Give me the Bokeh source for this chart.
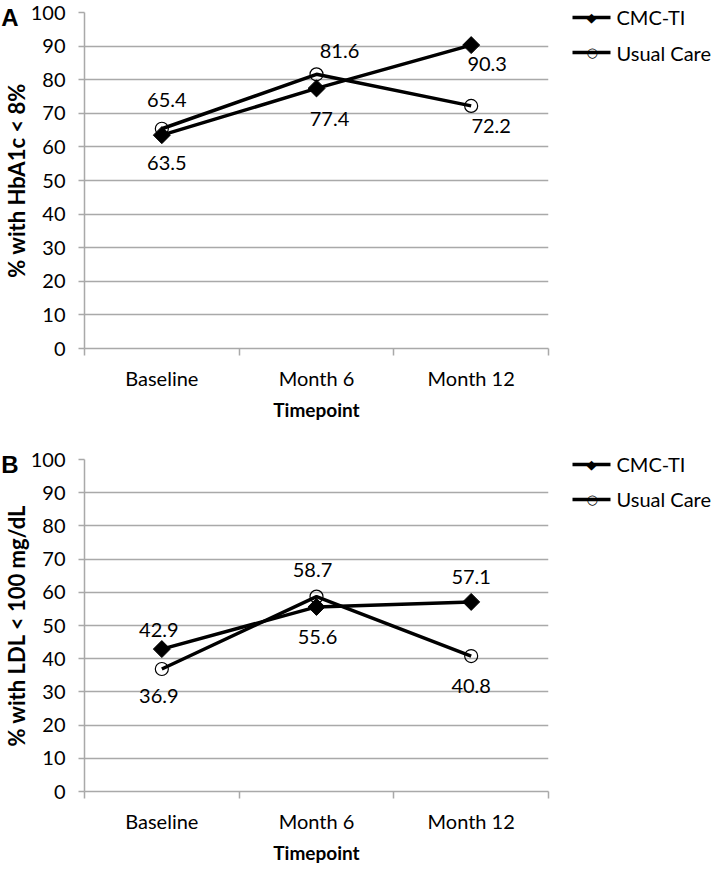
import math
from bokeh.plotting import figure
from bokeh.layouts import column
from bokeh.models import FixedTicker, LinearAxis
from bokeh.core.properties import value
from bokeh.embed import file_html
from bokeh.resources import INLINE

# ---- data ----
timepoints = ["Baseline", "Month 6", "Month 12"]
series_names = ["CMC-TI", "Usual Care"]
hba1c_cmc = [63.5, 77.4, 90.3]
hba1c_usual = [65.4, 81.6, 72.2]
ldl_cmc = [42.9, 55.6, 57.1]
ldl_usual = [36.9, 58.7, 40.8]
y_ticks = list(range(0, 101, 10))

# ---- label placement (pixels) ----
a_cmc_dx, a_cmc_dy = [5, 13, 16], [28, 31, 19]
a_uc_dx, a_uc_dy = [5, 23, 20], [-29, -23, 20]
b_cmc_dx, b_cmc_dy = [-3, 1, 0], [-19, 30, -25]
b_uc_dx, b_uc_dy = [-3, -4, 0], [27, -27, 30]

# legend rows / panel letter position (in y-axis units, i.e. layout only)
LEGEND_Y = [98.6, 88.0]
LETTER_Y = 98.6
MARKER_CHARS = ["\u25c6", "\u25cb"]

FONT = "Lato"
FS = "20px"
GRID = "#a9a9a9"
W = 714
LEFT = 84
RIGHT = 164


def make_panel(letter, ylabel, cmc, usual, cdx, cdy, udx, udy, height, top, bottom):
    n = len(timepoints)
    xs = [i + 0.5 for i in range(n)]
    p = figure(width=W, height=height, x_range=(0, n), y_range=(0, 100),
               output_backend="svg", toolbar_location=None,
               min_border_left=LEFT, min_border_right=RIGHT,
               min_border_top=top, min_border_bottom=bottom)
    p.outline_line_color = None
    p.background_fill_color = "white"

    # x axis
    p.xaxis.ticker = FixedTicker(ticks=xs, minor_ticks=list(range(n + 1)))
    p.xaxis.major_label_overrides = {x: t for x, t in zip(xs, timepoints)}
    p.xaxis.major_tick_line_color = None
    p.xaxis.major_tick_out = 0
    p.xaxis.major_tick_in = 0
    p.xaxis.minor_tick_out = 7
    p.xaxis.minor_tick_in = 0
    p.xaxis.minor_tick_line_color = GRID
    p.xaxis.minor_tick_line_width = 1.5
    p.xaxis.axis_line_color = GRID
    p.xaxis.axis_line_width = 1.5
    p.xaxis.major_label_standoff = 10
    p.xaxis.axis_label = "Timepoint"
    p.xaxis.axis_label_standoff = 5
    p.xgrid.visible = False

    # main y axis (ticks + numbers)
    p.yaxis.ticker = FixedTicker(ticks=y_ticks)
    p.yaxis.major_tick_out = 6
    p.yaxis.major_tick_in = 0
    p.yaxis.major_tick_line_color = GRID
    p.yaxis.major_tick_line_width = 1.5
    p.yaxis.minor_tick_line_color = None
    p.yaxis.axis_line_color = GRID
    p.yaxis.axis_line_width = 1.5
    p.yaxis.major_label_standoff = 13
    p.ygrid.grid_line_color = GRID
    p.ygrid.grid_line_width = 1.5

    for ax in (p.xaxis, p.yaxis):
        ax.major_label_text_font = FONT
        ax.major_label_text_font_size = FS
        ax.major_label_text_color = "black"
        ax.axis_label_text_font = FONT
        ax.axis_label_text_font_size = "19px"
        ax.axis_label_text_font_style = "bold"
        ax.axis_label_text_color = "black"

    # outer left axis: panel letter + axis title
    outer = LinearAxis(ticker=FixedTicker(ticks=[LETTER_Y]),
                       major_label_overrides={LETTER_Y: letter},
                       axis_line_color=None, major_tick_line_color=None,
                       minor_tick_line_color=None, major_tick_out=0, major_tick_in=0,
                       major_label_standoff=9,
                       major_label_text_font="Liberation Sans",
                       major_label_text_font_style="bold",
                       major_label_text_font_size="24px",
                       major_label_text_color="black",
                       axis_label=ylabel, axis_label_standoff=-32,
                       axis_label_text_font=FONT, axis_label_text_font_size="22px",
                       axis_label_text_font_style="bold", axis_label_text_color="black")
    p.add_layout(outer, "left")

    # series
    p.line(xs, usual, line_width=3.5, line_color="black")
    p.scatter(xs, usual, marker="circle", size=13, fill_alpha=0,
              line_color="black", line_width=1.2)
    p.line(xs, cmc, line_width=3.5, line_color="black")
    p.scatter(xs, cmc, marker="square", angle=math.pi / 4, size=12,
              fill_color="black", line_color="black")

    p.text(xs, cmc, text=[f"{v:.1f}" for v in cmc], x_offset=cdx, y_offset=cdy,
           text_font=value(FONT), text_font_size=FS, text_align="center",
           text_baseline="middle", text_color="black")
    p.text(xs, usual, text=[f"{v:.1f}" for v in usual], x_offset=udx, y_offset=udy,
           text_font=value(FONT), text_font_size=FS, text_align="center",
           text_baseline="middle", text_color="black")

    # legend, outside the frame on the right: line samples + marker symbols
    leg_sym = LinearAxis(ticker=FixedTicker(ticks=LEGEND_Y),
                         major_label_overrides={y: c for y, c in zip(LEGEND_Y, MARKER_CHARS)},
                         axis_line_color=None, minor_tick_line_color=None,
                         major_tick_line_color="black", major_tick_line_width=3.5,
                         major_tick_in=-24, major_tick_out=62,
                         major_label_standoff=-24,
                         major_label_text_font="DejaVu Sans",
                         major_label_text_font_size="13px",
                         major_label_text_color="black")
    p.add_layout(leg_sym, "right")
    # legend texts
    leg_txt = LinearAxis(ticker=FixedTicker(ticks=LEGEND_Y),
                         major_label_overrides={y: s for y, s in zip(LEGEND_Y, series_names)},
                         axis_line_color=None, minor_tick_line_color=None,
                         major_tick_line_color=None, major_tick_in=0, major_tick_out=0,
                         major_label_standoff=16,
                         major_label_text_font=FONT, major_label_text_font_size=FS,
                         major_label_text_color="black")
    p.add_layout(leg_txt, "right")
    return p


pa = make_panel("A", "% with HbA1c < 8%", hba1c_cmc, hba1c_usual,
                a_cmc_dx, a_cmc_dy, a_uc_dx, a_uc_dy, height=447, top=12, bottom=99)
pb = make_panel("B", "% with LDL < 100 mg/dL", ldl_cmc, ldl_usual,
                b_cmc_dx, b_cmc_dy, b_uc_dx, b_uc_dy, height=419, top=12, bottom=71)

layout = column(pa, pb)
open("out.html", "w").write(file_html(layout, INLINE))
